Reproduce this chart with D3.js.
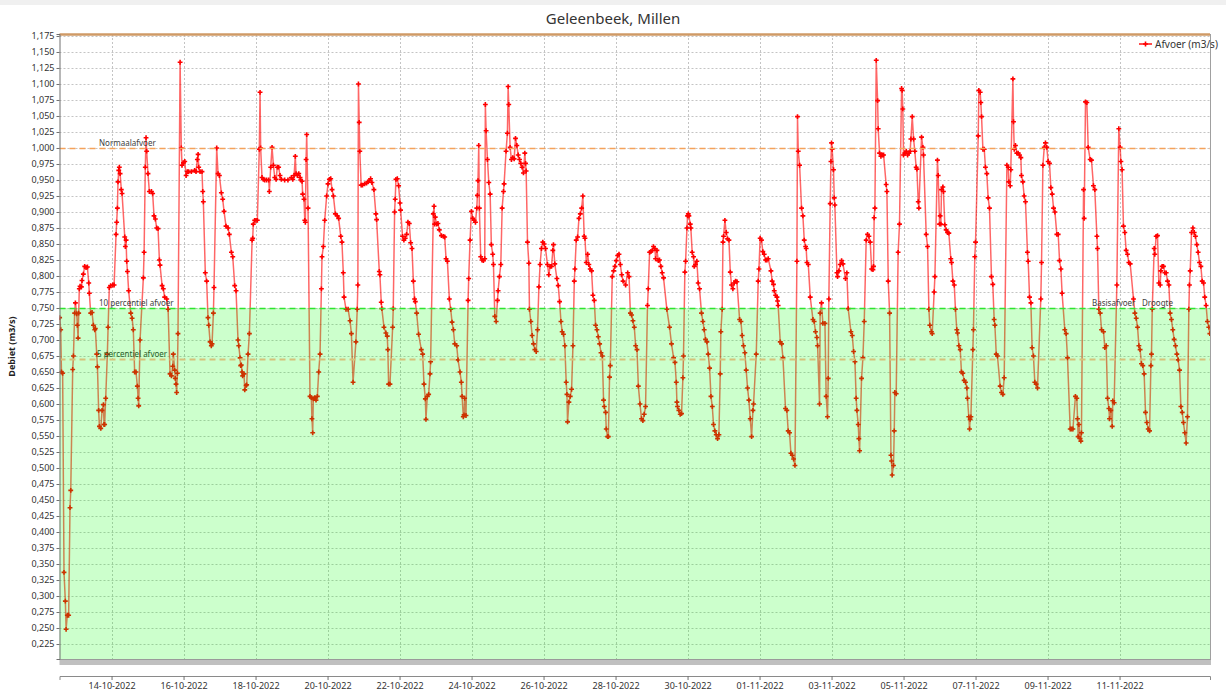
<!DOCTYPE html>
<html>
<head>
<meta charset="utf-8">
<script src="https://cdn.jsdelivr.net/npm/d3@7"></script>
<style>
    body { margin: 0; background: #fff; }
    svg { display: block; font-family: "Noto Sans", "DejaVu Sans", sans-serif; }
</style>
</head>
<body>
<div id="chart"></div>
<script>
let afvoerDeel1 = [
    [13.4,0.735],[14.1,0.716],[14.6,0.650],[15.4,0.648],[16.3,0.337],[17.2,0.292],[17.7,0.248],[18.5,0.270],[19.4,0.270],[20.3,0.438],
    [20.8,0.465],[22.1,0.654],[22.6,0.675],[23.4,0.742],[23.9,0.758],[24.8,0.741],[25.2,0.723],[25.7,0.703],[26.1,0.742],[26.5,0.780],
    [27.0,0.784],[27.9,0.783],[28.3,0.793],[29.2,0.803],[30.1,0.815],[31.0,0.813],[31.9,0.814],[32.8,0.789],[33.2,0.773],[34.1,0.742],
    [35.0,0.743],[35.9,0.723],[36.8,0.716],[37.2,0.718],[38.1,0.678],[38.6,0.658],[39.4,0.590],[39.9,0.565],[40.8,0.562],[41.7,0.590],
    [42.6,0.599],[43.0,0.568],[43.4,0.568],[44.1,0.609],[45.2,0.678],[45.7,0.720],[46.5,0.782],[47.4,0.785],[48.8,0.786],[49.7,0.786],
    [51.0,0.865],[51.4,0.884],[51.9,0.906],[52.3,0.947],[52.8,0.965],[53.2,0.970],[53.7,0.960],[54.5,0.935],[55.0,0.929],[56.8,0.861],
    [57.2,0.846],[57.7,0.856],[58.1,0.823],[58.6,0.807],[59.4,0.777],[60.8,0.742],[61.7,0.734],[62.5,0.716],[63.4,0.650],[64.3,0.650],
    [65.2,0.628],[65.7,0.609],[66.1,0.597],[67.0,0.700],[69.2,0.797],[69.7,0.837],[70.5,0.970],[71.0,1.016],[71.4,0.995],[72.3,0.960],
    [73.2,0.932],[74.6,0.932],[75.4,0.929],[76.3,0.894],[77.2,0.889],[78.1,0.875],[79.0,0.874],[79.9,0.825],[80.3,0.817],[81.7,0.785],
    [82.5,0.780],[83.4,0.767],[84.8,0.764],[85.7,0.748],[87.0,0.647],[87.9,0.644],[88.8,0.659],[89.2,0.678],[90.1,0.653],[90.5,0.640],
    [91.0,0.631],[91.4,0.618],[91.9,0.648],[92.3,0.710],[93.7,1.134],[94.5,1.000],[95.0,0.973],[95.9,0.977],[96.8,0.979],[97.7,0.957],
    [98.5,0.963],[99.4,0.963],[101.2,0.963],[103.4,0.965],[104.3,0.963],[105.2,0.982],[105.7,0.990],[106.1,0.970],[107.0,0.963],[108.3,0.963],
    [108.8,0.932],[109.2,0.916],[110.5,0.805],[111.4,0.792],[112.3,0.735],[112.8,0.723],[113.7,0.697],[114.5,0.691],[115.0,0.694],[115.9,0.742],
    [116.3,0.782],[118.1,1.000],[119.0,0.960],[119.9,0.957],[121.2,0.930],[122.1,0.920],[123.0,0.901],[124.3,0.878],[125.7,0.875],[126.5,0.865],
    [127.9,0.837],[128.8,0.830],[130.1,0.785],[131.0,0.777],[132.3,0.700],[132.8,0.691],[133.7,0.672],[134.1,0.660],[134.5,0.661],[135.0,0.650],
    [135.4,0.644],[136.3,0.647],[136.8,0.622],[137.7,0.629],[138.1,0.630],[139.0,0.678],[139.9,0.710],[141.7,0.856],[142.1,0.859],[142.5,0.881],
    [143.4,0.887],[144.3,0.887],[145.2,0.887],[146.5,0.998],[147.0,1.087],[147.4,1.000],[148.3,0.954],[149.2,0.951],[150.1,0.950],[151.4,0.950],
    [152.8,0.950],[153.2,0.932],[154.1,0.970],[155.0,1.001],[155.9,0.973],[156.8,0.954],[157.7,0.951],[158.5,0.970],[159.4,0.970],[160.3,0.957],
    [161.2,0.951],[163.4,0.950],[165.6,0.950],[167.9,0.954],[168.8,0.951],[169.7,0.957],[170.5,0.987],[171.0,0.960],[171.9,0.957],[172.8,0.960],
    [173.7,0.954],[174.1,0.950],[175.0,0.948],[175.4,0.928],[176.3,0.920],[176.8,0.887],[177.2,0.884],[177.7,0.982],[178.1,1.021],[179.0,0.906],
    [180.3,0.612],[181.2,0.610],[181.6,0.577],[182.1,0.555],[182.5,0.608],[183.4,0.610],[184.3,0.606],[185.2,0.612],[186.1,0.650],[187.0,0.678],
    [187.9,0.780],[188.3,0.830],[189.2,0.846],[190.1,0.887],[191.4,0.925],[192.3,0.944],[193.2,0.951],[194.1,0.952],[195.0,0.935],[195.9,0.925],
    [197.2,0.897],[198.5,0.894],[199.4,0.890],[200.8,0.862],[201.6,0.853],[202.5,0.805],[203.0,0.767],[204.3,0.748],[205.7,0.748],[207.0,0.730],
    [207.9,0.710],[209.0,0.634]
];
let afvoerDeel2 = [
    [210.9,0.697],[211.8,0.748],[212.2,0.786],[212.6,1.100],[213.1,1.040],[213.5,0.995],[214.4,0.942],[215.3,0.942],[216.7,0.944],[218.0,0.945],
    [218.9,0.947],[219.8,0.949],[220.7,0.952],[221.6,0.946],[222.9,0.935],[224.2,0.897],[224.7,0.888],[226.5,0.807],[226.9,0.802],[227.8,0.759],
    [228.2,0.749],[229.6,0.720],[230.9,0.711],[231.8,0.706],[232.2,0.685],[232.7,0.631],[233.6,0.631],[235.4,0.720],[235.8,0.749],[236.7,0.900],
    [237.1,0.920],[237.6,0.951],[238.5,0.952],[239.4,0.941],[240.3,0.914],[240.7,0.903],[242.0,0.862],[242.9,0.856],[243.8,0.859],[244.7,0.865],
    [245.6,0.884],[246.5,0.882],[247.4,0.852],[248.3,0.843],[249.2,0.792],[250.0,0.764],[250.5,0.760],[251.4,0.742],[252.7,0.709],[254.5,0.685],
    [255.4,0.678],[256.3,0.631],[257.2,0.608],[257.6,0.576],[258.5,0.612],[259.4,0.615],[260.3,0.647],[260.7,0.666],[262.5,0.897],[263.0,0.909],
    [263.4,0.881],[263.8,0.892],[264.7,0.881],[265.6,0.882],[266.5,0.872],[267.9,0.863],[269.2,0.862],[270.1,0.861],[271.0,0.827],[271.9,0.823],
    [273.2,0.764],[274.1,0.748],[275.0,0.728],[275.9,0.716],[276.8,0.694],[278.1,0.691],[279.0,0.669],[280.3,0.650],[281.2,0.634],[281.7,0.612],
    [282.5,0.580],[283.0,0.583],[283.4,0.609],[284.3,0.582],[285.7,0.762],[286.1,0.796],[287.0,0.856],[287.9,0.901],[288.8,0.890],[289.7,0.887],
    [290.6,0.884],[291.5,0.906],[291.9,0.926],[292.3,0.949],[292.8,1.004],[293.2,0.906],[294.1,0.830],[295.0,0.825],[295.9,0.824],[296.8,0.827],
    [297.2,1.068],[297.7,1.027],[298.6,0.982],[299.5,0.946],[300.4,0.928],[301.2,0.849],[302.1,0.834],[302.6,0.818],[303.5,0.737],[304.4,0.729],
    [305.3,0.762],[305.7,0.777],[306.6,0.799],[307.5,0.818],[308.4,0.906],[309.3,0.932],[309.7,0.944],[311.0,0.995],[311.9,1.023],[312.4,1.096],
    [312.8,1.068],[313.7,1.001],[314.6,0.982],[315.5,0.985],[316.4,0.983],[317.3,1.015],[318.2,1.004],[319.1,0.989],[320.0,0.982],[320.8,0.976],
    [321.7,0.970],[322.6,0.961],[323.5,0.992],[324.0,0.976],[324.4,0.964],[325.3,0.853],[326.2,0.820],[326.6,0.748],[327.5,0.729],[328.4,0.707],
    [329.3,0.694],[330.2,0.685],[331.1,0.682],[332.0,0.716],[332.9,0.783],[333.7,0.818],[334.6,0.843],[335.5,0.853],[336.4,0.850],[337.3,0.843],
    [338.6,0.818],[339.5,0.802],[340.4,0.815],[341.3,0.815],[342.2,0.840],[342.6,0.849],[343.5,0.819],[344.9,0.796],[345.8,0.785],[346.7,0.760],
    [347.6,0.729],[348.4,0.713],[349.3,0.709],[350.2,0.691],[351.1,0.634],[351.6,0.615],[352.0,0.572],[352.9,0.603],[353.8,0.612],[354.7,0.623],
    [355.6,0.691],[356.5,0.792],[356.9,0.811],[357.8,0.856],[358.7,0.861],[359.6,0.890],[360.5,0.897],[361.4,0.906],[362.2,0.925],[363.1,0.862],
    [363.6,0.859],[364.5,0.821],[365.4,0.834],[366.2,0.818],[367.1,0.811],[368.0,0.808],[368.9,0.770],[369.8,0.762],[370.7,0.723],[371.6,0.716],
    [372.5,0.705],[373.4,0.694],[374.3,0.680],[375.2,0.675],[376.0,0.606],[376.5,0.596],[377.4,0.587],[377.8,0.561],[378.7,0.549],[379.2,0.549],
    [380.0,0.642],[380.5,0.660],[381.8,0.799],[382.7,0.808],[383.6,0.815],[384.5,0.824],[385.4,0.832],[386.3,0.834],[387.2,0.818],[388.1,0.802],
    [389.0,0.792],[390.7,0.786],[392.1,0.805],[393.0,0.799],[393.9,0.742],[394.7,0.739],[395.6,0.730],[396.5,0.720],[397.4,0.691],[398.3,0.685],
    [399.2,0.628],[400.3,0.600]
];
let afvoerDeel3 = [
    [401.3,0.577],[402.2,0.574],[403.1,0.584],[404.0,0.596],[405.3,0.754],[405.8,0.780],[406.7,0.837],[407.6,0.838],[408.5,0.840],[409.3,0.846],
    [410.2,0.843],[410.7,0.827],[411.6,0.840],[412.5,0.824],[413.3,0.825],[414.2,0.815],[415.1,0.805],[416.0,0.797],[418.2,0.748],[420.0,0.720],
    [421.3,0.694],[422.7,0.672],[423.6,0.665],[424.5,0.634],[424.9,0.603],[425.3,0.596],[426.2,0.590],[427.1,0.584],[428.0,0.585],[428.9,0.641],
    [429.3,0.675],[430.2,0.806],[430.7,0.823],[431.6,0.875],[432.0,0.894],[432.5,0.897],[432.9,0.894],[433.8,0.881],[434.2,0.875],[435.1,0.837],
    [436.0,0.830],[436.5,0.815],[437.3,0.818],[438.2,0.823],[439.1,0.789],[440.0,0.780],[441.3,0.742],[442.2,0.729],[443.1,0.716],[444.0,0.701],
    [444.9,0.697],[445.8,0.678],[446.7,0.656],[447.6,0.612],[448.5,0.596],[449.3,0.568],[450.2,0.558],[451.1,0.552],[452.0,0.546],[452.9,0.552],
    [453.8,0.647],[454.2,0.713],[455.1,0.748],[455.6,0.853],[456.0,0.862],[456.9,0.887],[457.8,0.868],[458.7,0.858],[459.6,0.856],[460.5,0.806],
    [461.3,0.786],[462.2,0.780],[463.1,0.789],[464.0,0.792],[464.9,0.791],[466.7,0.732],[467.6,0.729],[468.4,0.707],[469.3,0.691],[470.2,0.680],
    [471.1,0.653],[472.0,0.625],[472.9,0.606],[473.8,0.577],[474.7,0.549],[475.6,0.590],[476.0,0.600],[477.8,0.678],[479.1,0.792],[479.6,0.811],
    [480.4,0.859],[481.3,0.856],[482.2,0.838],[483.1,0.834],[484.0,0.825],[484.9,0.825],[485.8,0.827],[487.6,0.808],[488.4,0.792],[489.3,0.787],
    [489.8,0.777],[490.7,0.770],[491.6,0.767],[492.0,0.761],[492.4,0.754],[493.8,0.697],[494.7,0.694],[495.6,0.672],[497.3,0.593],[498.2,0.590],
    [499.1,0.558],[500.0,0.555],[500.9,0.523],[501.8,0.520],[502.7,0.514],[503.6,0.504],[504.9,0.823],[505.3,1.049],[505.8,0.995],[506.7,0.973],
    [508.0,0.906],[508.9,0.894],[509.8,0.856],[510.7,0.846],[511.1,0.843],[511.6,0.821],[512.5,0.818],[513.8,0.767],[515.6,0.732],[516.4,0.729],
    [517.3,0.713],[518.2,0.704],[518.7,0.691],[520.0,0.600],[520.4,0.742],[521.3,0.758],[522.2,0.726],[523.6,0.726],[524.4,0.612],[525.3,0.580],
    [525.8,0.640],[526.2,0.764],[527.1,0.913],[527.6,0.979],[528.0,1.008],[528.4,0.998],[529.3,0.966],[529.8,0.922],[530.2,0.911],[531.6,0.805],
    [532.0,0.799],[532.9,0.808],[533.8,0.818],[534.7,0.824],[535.6,0.819],[537.3,0.796],[538.2,0.805],[539.1,0.749],[540.9,0.713],[541.8,0.707],
    [542.7,0.682],[543.6,0.666],[544.4,0.609],[544.9,0.590],[545.8,0.568],[546.2,0.546],[546.7,0.527],[548.0,0.640],[548.9,0.672],[549.8,0.729],
    [551.1,0.856],[552.0,0.865],[552.9,0.862],[553.8,0.853],[554.7,0.811],[555.6,0.810],[556.0,0.815],[556.4,0.891],[556.9,0.906],[557.8,1.137],
    [558.7,1.074],[559.1,1.030],[560.0,0.992],[560.9,0.987],[561.8,0.989],[562.7,0.989],[564.4,0.943],[564.9,0.932],[565.8,0.792],[566.7,0.742],
    [567.6,0.520],[568.0,0.511],[568.4,0.489],[569.3,0.504],[569.8,0.558],[570.2,0.618],[571.1,0.616],[572.4,0.837],[573.3,0.881],[574.7,1.093],
    [575.1,1.090],[575.5,1.061],[576.0,0.989],[576.9,0.992],[577.8,0.995],[578.7,0.989],[579.6,0.992],[580.4,0.995],[580.9,1.014],[581.8,1.049],
    [582.7,1.014],[583.5,0.995],[584.4,0.970],[584.9,0.967],[585.8,0.916],[586.2,0.906],[588.0,1.017],[588.9,1.001],[589.3,0.989],[591.1,0.865],
    [592.0,0.846],[592.9,0.748],[593.5,0.723]
];
let afvoerDeel4 = [
    [594.6,0.713],[595.1,0.710],[596.4,0.775],[596.9,0.799],[598.6,0.981],[599.1,0.957],[600.0,0.881],[600.4,0.894],[600.9,0.881],[601.3,0.935],
    [602.2,0.939],[602.6,0.932],[603.5,0.880],[604.4,0.872],[605.3,0.868],[606.2,0.867],[607.5,0.827],[608.0,0.821],[608.9,0.792],[609.8,0.786],
    [610.6,0.748],[611.5,0.716],[612.0,0.711],[612.9,0.691],[613.8,0.685],[614.6,0.650],[615.5,0.648],[616.4,0.637],[617.3,0.634],[618.2,0.625],
    [618.6,0.609],[619.5,0.580],[620.0,0.561],[620.4,0.576],[620.9,0.580],[622.2,0.685],[622.6,0.716],[623.5,0.830],[624.0,0.853],[625.8,1.019],
    [626.2,1.090],[627.1,1.087],[627.5,1.071],[628.0,1.049],[628.9,0.998],[629.8,0.998],[630.6,0.970],[631.5,0.960],[632.4,0.922],[633.3,0.906],
    [634.6,0.799],[635.5,0.787],[636.4,0.732],[636.9,0.723],[637.8,0.678],[638.6,0.675],[640.4,0.628],[641.3,0.618],[642.2,0.615],[643.1,0.641],
    [644.9,0.973],[645.8,0.970],[646.2,0.947],[647.1,0.941],[647.5,0.966],[648.9,1.108],[649.3,1.041],[649.8,0.998],[650.6,1.004],[651.5,0.992],
    [652.4,0.992],[653.3,0.989],[654.2,0.985],[654.6,0.957],[655.5,0.947],[656.4,0.925],[657.3,0.916],[658.6,0.837],[659.1,0.823],[660.0,0.767],
    [660.9,0.758],[661.7,0.688],[662.6,0.675],[663.5,0.634],[664.4,0.631],[665.3,0.625],[667.5,0.764],[668.0,0.821],[668.9,0.973],[669.8,1.001],
    [670.6,1.008],[671.5,1.001],[672.4,0.979],[673.3,0.976],[674.2,0.938],[675.1,0.928],[676.0,0.906],[676.9,0.900],[678.2,0.865],[679.1,0.865],
    [680.0,0.824],[680.9,0.811],[681.7,0.773],[683.5,0.716],[684.4,0.710],[685.3,0.672],[687.1,0.561],[688.0,0.561],[688.9,0.561],[690.6,0.612],
    [691.5,0.609],[692.0,0.577],[692.4,0.549],[692.9,0.568],[693.7,0.546],[694.2,0.542],[694.6,0.555],[696.0,0.935],[696.4,0.890],[697.3,1.072],
    [698.2,1.071],[699.1,1.001],[700.4,0.982],[701.3,0.981],[702.6,0.941],[703.5,0.935],[704.9,0.862],[705.3,0.843],[706.2,0.748],[707.1,0.742],
    [708.0,0.716],[709.3,0.713],[710.2,0.688],[711.1,0.691],[712.0,0.609],[712.9,0.593],[713.3,0.577],[714.2,0.590],[715.1,0.565],[715.5,0.605],
    [716.4,0.602],[718.2,0.786],[719.5,1.030],[720.4,1.001],[720.9,0.979],[721.7,0.966],[722.6,0.878],[723.5,0.868],[724.4,0.840],[725.3,0.834],
    [726.2,0.821],[727.1,0.819],[729.3,0.764],[730.2,0.742],[731.1,0.734],[732.0,0.720],[732.9,0.691],[733.7,0.685],[734.6,0.663],[735.5,0.660],
    [736.4,0.647],[737.3,0.587],[738.2,0.571],[739.1,0.561],[740.0,0.558],[740.9,0.660],[741.3,0.678],[741.8,0.748],[743.1,0.843],[743.5,0.834],
    [744.4,0.862],[745.3,0.863],[746.2,0.789],[747.1,0.786],[747.5,0.808],[748.4,0.815],[749.3,0.815],[750.2,0.805],[751.1,0.805],[752.0,0.792],
    [752.9,0.786],[753.7,0.742],[754.6,0.732],[755.5,0.716],[756.4,0.701],[757.3,0.691],[758.2,0.678],[759.1,0.669],[760.0,0.653],[760.9,0.596],
    [761.8,0.587],[762.6,0.571],[763.5,0.555],[764.4,0.539],[765.3,0.580],[766.2,0.748],[766.6,0.786],[767.1,0.808],[768.0,0.868],[768.9,0.875],
    [769.8,0.868],[770.6,0.862],[771.5,0.849],[772.4,0.837],[773.3,0.821],[774.2,0.815],[775.1,0.792],[776.0,0.789],[776.8,0.767],[777.7,0.754],
    [778.6,0.729],[779.5,0.720],[780.2,0.710]
];

let titel = "Geleenbeek, Millen";
let reeksNaam = "Afvoer (m3/s)";
let yAsNaam = "Debiet (m3/s)";

// drempels met label links
let drempelWaarden = [1.0, 0.75, 0.671];
let drempelLabels = ["Normaalafvoer", "10 percentiel afvoer", "5 percentiel afvoer"];
// labels rechts op de 0,75 lijn
let rechtsLabels = ["Basisafvoer", "Droogte"];

let xTickDagen = ["2022-10-14","2022-10-16","2022-10-18","2022-10-20","2022-10-22","2022-10-24","2022-10-26",
    "2022-10-28","2022-10-30","2022-11-01","2022-11-03","2022-11-05","2022-11-07","2022-11-09","2022-11-11"];
let yTickWaarden = d3.range(225, 1176, 25).map(d => d / 1000);

// zichtbaar bereik: uren sinds 12-10-2022
let urenBereik = [13.3, 780.3];
let afvoerBereik = [0.2016, 1.1781];

let width = 1226;
let height = 694;
let plot = {left: 59.5, right: 1210, top: 34, bottom: 659};

let basis = Date.UTC(2022, 9, 12);
let naarDatum = h => new Date(basis + h * 3600e3);
let data = afvoerDeel1.concat(afvoerDeel2, afvoerDeel3, afvoerDeel4)
    .map(([h, v]) => ({t: naarDatum(h), v: v}));

let x = d3.scaleUtc()
    .domain(urenBereik.map(naarDatum))
    .range([plot.left, plot.right]);
let y = d3.scaleLinear()
    .domain(afvoerBereik)
    .range([plot.bottom, plot.top]);

let svg = d3.select("#chart")
    .append("svg")
    .attr("width", width)
    .attr("height", height)
    .attr("viewBox", [0, 0, width, height]);

svg.append("rect").attr("width", width).attr("height", 5).attr("fill", "#f0f0f0");

svg.append("text")
    .attr("x", width / 2)
    .attr("y", 24)
    .attr("text-anchor", "middle")
    .attr("font-size", 15)
    .attr("fill", "#333")
    .text(titel);

let xTicks = xTickDagen.map(d => d3.utcParse("%Y-%m-%d")(d));

// grid
let grid = svg.append("g")
    .attr("stroke", "#c4c4c4")
    .attr("stroke-dasharray", "2,2");
grid.selectAll(".y-grid-line")
    .data(yTickWaarden)
    .join("line")
    .attr("class", "y-grid-line")
    .attr("x1", plot.left).attr("x2", plot.right)
    .attr("y1", d => Math.round(y(d)) + 0.5)
    .attr("y2", d => Math.round(y(d)) + 0.5);
grid.selectAll(".x-grid-line")
    .data(xTicks)
    .join("line")
    .attr("class", "x-grid-line")
    .attr("y1", plot.top).attr("y2", plot.bottom)
    .attr("x1", d => Math.round(x(d)) + 0.5)
    .attr("x2", d => Math.round(x(d)) + 0.5);

// reeks
svg.append("clipPath").attr("id", "plotclip")
    .append("rect")
    .attr("x", plot.left).attr("y", plot.top)
    .attr("width", plot.right - plot.left).attr("height", plot.bottom - plot.top);

let reeks = svg.append("g").attr("clip-path", "url(#plotclip)");
reeks.append("path")
    .datum(data)
    .attr("fill", "none")
    .attr("stroke", "#ff0000")
    .attr("stroke-opacity", 0.6)
    .attr("stroke-width", 1.5)
    .attr("d", d3.line().x(d => x(d.t)).y(d => y(d.v)));

let marker = d3.symbol(d3.symbolCross, 13);
reeks.selectAll(".marker")
    .data(data)
    .join("path")
    .attr("class", "marker")
    .attr("fill", "#ff0000")
    .attr("transform", d => `translate(${x(d.t)},${y(d.v)})`)
    .attr("d", marker);

// label onder de groene zone, kleurt mee met de zone
svg.append("text")
    .attr("x", 97)
    .attr("y", y(drempelWaarden[2]) - 2)
    .attr("font-size", 8)
    .attr("fill", "#333")
    .text(drempelLabels[2]);

// groene zone onder 10 percentiel, half doorzichtig over de reeks
svg.append("rect")
    .attr("x", plot.left)
    .attr("y", y(drempelWaarden[1]))
    .attr("width", plot.right - plot.left)
    .attr("height", plot.bottom - y(drempelWaarden[1]))
    .attr("fill", "rgb(0,255,0)")
    .attr("fill-opacity", 0.2);

let drempelKleuren = ["#f5a25a", "#2ee62e", "#d6c27a"];
let drempelDikte = [1.5, 1.3, 2];
svg.append("g")
    .selectAll("line")
    .data(drempelWaarden)
    .join("line")
    .attr("x1", plot.left).attr("x2", plot.right)
    .attr("y1", d => Math.round(y(d)) + 0.5)
    .attr("y2", d => Math.round(y(d)) + 0.5)
    .attr("stroke", (d, i) => drempelKleuren[i])
    .attr("stroke-width", (d, i) => drempelDikte[i])
    .attr("stroke-dasharray", "6,4");

let labels = svg.append("g")
    .attr("font-size", 8)
    .attr("fill", "#404040");
labels.append("text").attr("x", 99).attr("y", y(drempelWaarden[0]) - 2).text(drempelLabels[0]);
labels.append("text").attr("x", 99).attr("y", y(drempelWaarden[1]) - 2).text(drempelLabels[1]);
labels.append("text").attr("x", 1092).attr("y", y(drempelWaarden[1]) - 2).text(rechtsLabels[0]);
labels.append("text").attr("x", 1142).attr("y", y(drempelWaarden[1]) - 2).text(rechtsLabels[1]);

// rand van het plotvlak
svg.append("line")
    .attr("x1", plot.left).attr("x2", plot.right)
    .attr("y1", plot.top + 0.5).attr("y2", plot.top + 0.5)
    .attr("stroke", "#cf9a66").attr("stroke-width", 2.5);
svg.append("line")
    .attr("x1", plot.right + 0.5).attr("x2", plot.right + 0.5)
    .attr("y1", plot.top).attr("y2", plot.bottom)
    .attr("stroke", "#a0a0a0");
svg.append("rect")
    .attr("x", plot.left).attr("y", plot.bottom)
    .attr("width", plot.right - plot.left + 1).attr("height", 6)
    .attr("fill", "#c0c0c0");
svg.append("line")
    .attr("x1", plot.left).attr("x2", plot.right + 1)
    .attr("y1", plot.bottom + 0.5).attr("y2", plot.bottom + 0.5)
    .attr("stroke", "#9a9a9a");

// y-as
let yAxis = svg.append("g")
    .attr("transform", `translate(${plot.left},0)`)
    .call(d3.axisLeft(y)
        .tickValues(yTickWaarden)
        .tickSize(3)
        .tickPadding(2)
        .tickFormat(d => d3.format(".3f")(d).replace(".", ",")));
yAxis.select(".domain").attr("stroke", "#707070");
yAxis.selectAll(".tick line").attr("stroke", "#707070");
yAxis.selectAll("text")
    .attr("font-size", 9)
    .attr("font-family", "\"Noto Sans\", sans-serif")
    .attr("fill", "#333");

svg.append("text")
    .attr("transform", `translate(15,${(plot.top + plot.bottom) / 2}) rotate(-90)`)
    .attr("text-anchor", "middle")
    .attr("font-size", 9)
    .attr("font-weight", "bold")
    .attr("fill", "#222")
    .text(yAsNaam);

// x-as los onder het plotvlak
let xAxis = svg.append("g")
    .attr("transform", "translate(0,676)")
    .call(d3.axisBottom(x)
        .tickValues(xTicks)
        .tickSize(4)
        .tickPadding(3)
        .tickFormat(d3.utcFormat("%d-%m-%Y")));
xAxis.select(".domain").attr("stroke", "#8a8a8a");
xAxis.selectAll(".tick line").attr("stroke", "#707070");
xAxis.selectAll("text")
    .attr("font-size", 9)
    .attr("font-family", "\"Noto Sans\", sans-serif")
    .attr("fill", "#333");

// legenda
let legend = svg.append("g").attr("transform", "translate(1139,44)");
legend.append("line").attr("x1", 0).attr("x2", 13).attr("stroke", "#ff0000").attr("stroke-width", 1.4);
legend.append("path").attr("transform", "translate(6.5,0)").attr("fill", "#ff0000").attr("d", marker);
legend.append("text")
    .attr("x", 16).attr("y", 3.5)
    .attr("font-size", 10)
    .attr("fill", "#333")
    .text(reeksNaam);
</script>
</body>
</html>
